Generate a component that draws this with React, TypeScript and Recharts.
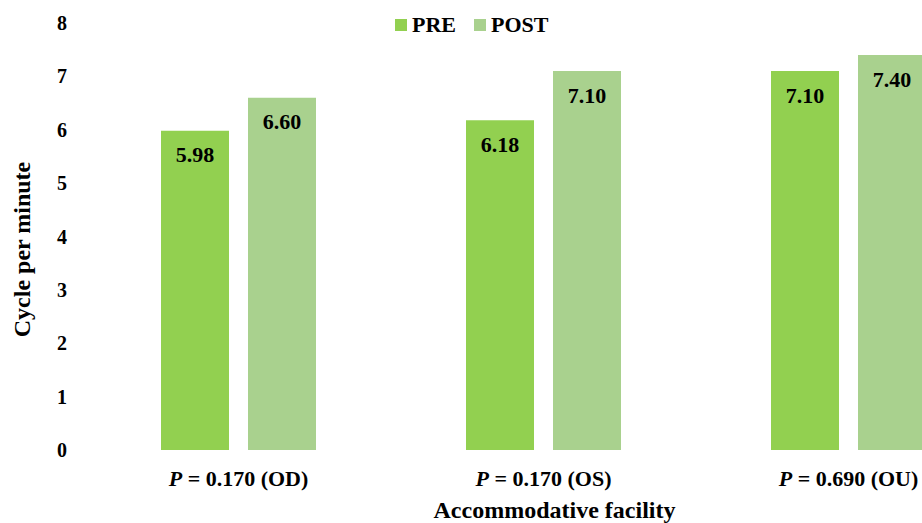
import React from 'react';
import { BarChart, Bar, XAxis, YAxis, Legend, LabelList } from 'recharts';

const categories = ['OD', 'OS', 'OU'];
const pValues = ['0.170', '0.170', '0.690'];
const preValues = [5.98, 6.18, 7.1];
const postValues = [6.6, 7.1, 7.4];
const yTicks = [0, 1, 2, 3, 4, 5, 6, 7, 8];
const seriesNames = ['PRE', 'POST'];
const seriesColors = ['#92D050', '#A9D18E'];

const data = categories.map((c, i) => ({
  cat: c,
  p: pValues[i],
  pre: preValues[i],
  post: postValues[i],
}));

const FONT = "'Liberation Serif', 'Times New Roman', serif";

const XTick = (props: any) => {
  const { x, y, payload } = props;
  const idx = categories.indexOf(payload.value);
  return (
    <text
      x={x}
      y={y + 28}
      textAnchor="middle"
      fontFamily={FONT}
      fontWeight="bold"
      fontSize={22}
      fill="#000"
    >
      <tspan fontStyle="italic">P</tspan>
      {` = ${pValues[idx]} (${payload.value})`}
    </text>
  );
};

const YTitle = (props: any) => {
  const vb = props.viewBox || { x: 0, y: 0, width: 0, height: 0 };
  const cx = vb.x + 22;
  const cy = vb.y + vb.height / 2 + 13;
  return (
    <text
      x={cx}
      y={cy}
      transform={`rotate(-90, ${cx}, ${cy})`}
      textAnchor="middle"
      dominantBaseline="central"
      fontFamily={FONT}
      fontWeight="bold"
      fontSize={24}
      fill="#000"
    >
      Cycle per minute
    </text>
  );
};

const LegendContent = () => {
  return (
    <div
      style={{
        display: 'flex',
        alignItems: 'center',
        fontFamily: FONT,
        fontWeight: 'bold',
        fontSize: 22,
        lineHeight: '22px',
        color: '#000',
        whiteSpace: 'nowrap',
      }}
    >
      {seriesNames.map((name, i) => (
        <div key={name} style={{ display: 'flex', alignItems: 'center', marginRight: 18 }}>
          <span
            style={{
              display: 'inline-block',
              width: 12,
              height: 12,
              background: seriesColors[i],
              marginRight: 5,
            }}
          />
          <span>{name}</span>
        </div>
      ))}
    </div>
  );
};

export default function App() {
  return (
    <div
      style={{
        position: 'absolute',
        left: 0,
        top: 0,
        width: 922,
        height: 523,
        overflow: 'hidden',
        background: '#fff',
      }}
    >
      <BarChart
        width={1001}
        height={523}
        data={data}
        margin={{ top: 23, right: 0, left: 0, bottom: 0 }}
        barSize={68}
        barGap={19}
      >
        <XAxis
          dataKey="cat"
          type="category"
          axisLine={false}
          tickLine={false}
          height={73}
          interval={0}
          tick={<XTick />}
          label={{
            value: 'Accommodative facility',
            position: 'insideBottom',
            offset: 5,
            dx: 11,
            style: { fontFamily: FONT, fontWeight: 'bold', fontSize: 24, fill: '#000' },
          }}
        />
        <YAxis
          type="number"
          domain={[0, 8]}
          ticks={yTicks}
          interval={0}
          axisLine={false}
          tickLine={false}
          width={86}
          tickMargin={13}
          tick={{ fontFamily: FONT, fontWeight: 'bold', fontSize: 20, fill: '#000' }}
          label={<YTitle />}
        />
        <Legend
          verticalAlign="middle"
          align="center"
          layout="horizontal"
          wrapperStyle={{ top: 14, left: 395, width: 'auto', height: 'auto' }}
          content={<LegendContent />}
        />
        <Bar dataKey="pre" name={seriesNames[0]} fill={seriesColors[0]} isAnimationActive={false}>
          <LabelList
            dataKey="pre"
            position="insideTop"
            offset={16}
            formatter={(v: any) => Number(v).toFixed(2)}
            style={{ fontFamily: FONT, fontWeight: 'bold', fontSize: 22, fill: '#000' }}
          />
        </Bar>
        <Bar dataKey="post" name={seriesNames[1]} fill={seriesColors[1]} isAnimationActive={false}>
          <LabelList
            dataKey="post"
            position="insideTop"
            offset={16}
            formatter={(v: any) => Number(v).toFixed(2)}
            style={{ fontFamily: FONT, fontWeight: 'bold', fontSize: 22, fill: '#000' }}
          />
        </Bar>
      </BarChart>
    </div>
  );
}
